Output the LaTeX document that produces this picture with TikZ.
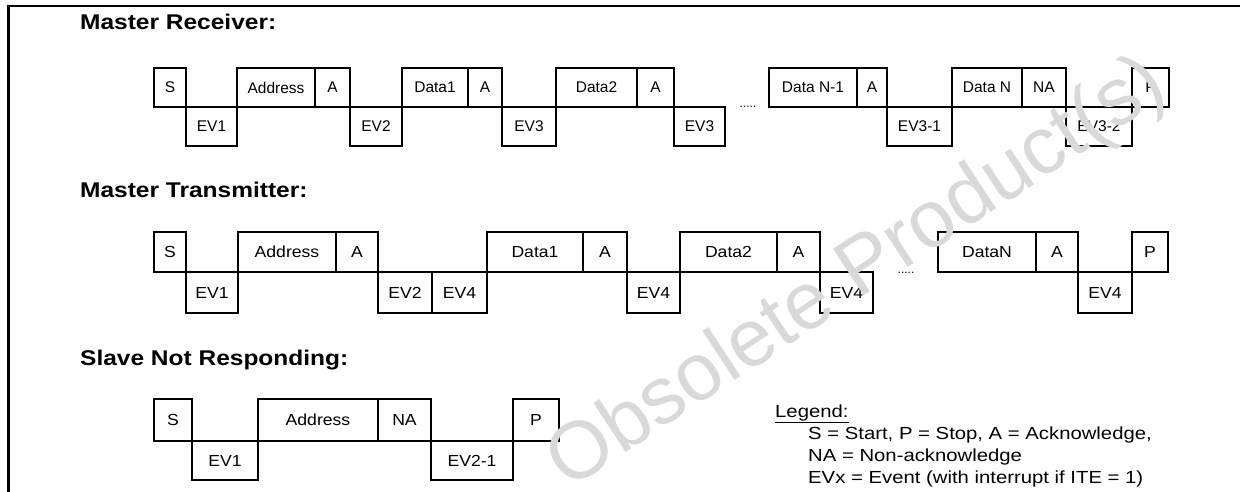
\documentclass[tikz,border=0pt]{standalone}
\usepackage{fontspec}
\setmainfont{Liberation Sans}
\newfontfamily\rowfa{Liberation Sans}
\newfontfamily\rowfb[FakeStretch=1.1]{Liberation Sans}
\newfontfamily\legfont[FakeStretch=1.16]{Liberation Sans}
\newfontfamily\titfont[FakeStretch=1.15]{Liberation Sans}
\newfontfamily\wmfont{Liberation Sans}
\begin{document}
\begin{tikzpicture}[x=1pt,y=-1pt,
  bx/.style={draw, line width=1.1pt, rectangle, inner sep=0pt, outer sep=0pt, anchor=north west},
  ra/.style={bx, font=\rowfa\fontsize{15.5}{18}\selectfont},
  rb/.style={bx, font=\rowfb\fontsize{16}{19}\selectfont},
  ttl/.style={anchor=base west, inner sep=0pt, font=\titfont\bfseries\fontsize{21.3}{24}\selectfont},
  leg/.style={anchor=base west, inner sep=0pt, font=\legfont\fontsize{17.5}{21}\selectfont},
  dots/.style={inner sep=0pt, font=\rowfa\fontsize{12}{14}\selectfont},
  frame/.style={line width=2.2pt},
  wm/.style={text=black!15, font=\wmfont\fontsize{81}{90}\selectfont, rotate=33.3, inner sep=0pt}
]
\useasboundingbox (0,0) rectangle (1240,492);
% frame
\coordinate (fr0) at (8.5,6);
\coordinate (fr1) at (1240,6);
\coordinate (fr2) at (8.5,492);
\draw[frame] (fr2) -- (fr0) -- (fr1);

% titles
\node[ttl] (t1) at (80,30) {Master Receiver:};
\node[ttl] (t2) at (80,197) {Master Transmitter:};
\node[ttl] (t3) at (80,365) {Slave Not Responding:};

% ---------- Row 1: Master Receiver ----------
\begin{scope}[every node/.append style={ra}]
\node[minimum width=32, minimum height=39] (a1) at (154,68) {S};
\node[minimum width=51, minimum height=39] (a2) at (186,107) {EV1};
\node[minimum width=78, minimum height=39] (a3) at (237,68) {Address};
\node[minimum width=35, minimum height=39] (a4) at (315,68) {A};
\node[minimum width=52, minimum height=39] (a5) at (350,107) {EV2};
\node[minimum width=66, minimum height=39] (a6) at (402,68) {Data1};
\node[minimum width=34, minimum height=39] (a7) at (468,68) {A};
\node[minimum width=54, minimum height=39] (a8) at (502,107) {EV3};
\node[minimum width=81, minimum height=39] (a9) at (556,68) {Data2};
\node[minimum width=37, minimum height=39] (a10) at (637,68) {A};
\node[minimum width=51, minimum height=39] (a11) at (674,107) {EV3};
\node[minimum width=88, minimum height=39] (a12) at (769,68) {Data N-1};
\node[minimum width=30, minimum height=39] (a13) at (857,68) {A};
\node[minimum width=65, minimum height=39] (a14) at (887,107) {EV3-1};
\node[minimum width=70, minimum height=39] (a15) at (952,68) {Data N};
\node[minimum width=44, minimum height=39] (a16) at (1022,68) {NA};
\node[minimum width=66, minimum height=39] (a17) at (1066,107) {EV3-2};
\node[minimum width=37, minimum height=39] (a18) at (1132,68) {P};
\end{scope}
\node[dots] (ad) at (748,107) {.....};

% ---------- Row 2: Master Transmitter ----------
\begin{scope}[every node/.append style={rb}]
\node[minimum width=32, minimum height=40] (b1) at (154,232) {S};
\node[minimum width=52, minimum height=41] (b2) at (186,272) {EV1};
\node[minimum width=98, minimum height=40] (b3) at (238,232) {Address};
\node[minimum width=42, minimum height=40] (b4) at (336,232) {A};
\node[minimum width=54, minimum height=41] (b5) at (378,272) {EV2};
\node[minimum width=55, minimum height=41] (b6) at (432,272) {EV4};
\node[minimum width=96, minimum height=40] (b7) at (487,232) {Data1};
\node[minimum width=44, minimum height=40] (b8) at (583,232) {A};
\node[minimum width=53, minimum height=41] (b9) at (627,272) {EV4};
\node[minimum width=97, minimum height=40] (b10) at (680,232) {Data2};
\node[minimum width=43, minimum height=40] (b11) at (777,232) {A};
\node[minimum width=53, minimum height=41] (b12) at (820,272) {EV4};
\node[minimum width=98, minimum height=40] (b13) at (938,232) {DataN};
\node[minimum width=42, minimum height=40] (b14) at (1036,232) {A};
\node[minimum width=54, minimum height=41] (b15) at (1078,272) {EV4};
\node[minimum width=36, minimum height=40] (b16) at (1132,232) {P};
\end{scope}
\node[dots] (bd) at (906,273) {.....};

% ---------- Row 3: Slave Not Responding ----------
\begin{scope}[every node/.append style={rb}]
\node[minimum width=38, minimum height=42] (c1) at (154,399) {S};
\node[minimum width=66, minimum height=39] (c2) at (192,441) {EV1};
\node[minimum width=120, minimum height=42] (c3) at (258,399) {Address};
\node[minimum width=53, minimum height=42] (c4) at (378,399) {NA};
\node[minimum width=82, minimum height=39] (c5) at (431,441) {EV2-1};
\node[minimum width=46, minimum height=42] (c6) at (513,399) {P};
\end{scope}

% legend
\node[leg] (l1) at (775,417) {\underline{Legend:}};
\node[leg] (l2) at (808,439) {S = Start, P = Stop, A = Acknowledge,};
\node[leg] (l3) at (808,461) {NA = Non-acknowledge};
\node[leg] (l4) at (808,483) {EVx = Event (with interrupt if ITE = 1)};

% watermark
\node[wm] (w) at (858,275) {Obsolete Product(s)};
\end{tikzpicture}
\end{document}
